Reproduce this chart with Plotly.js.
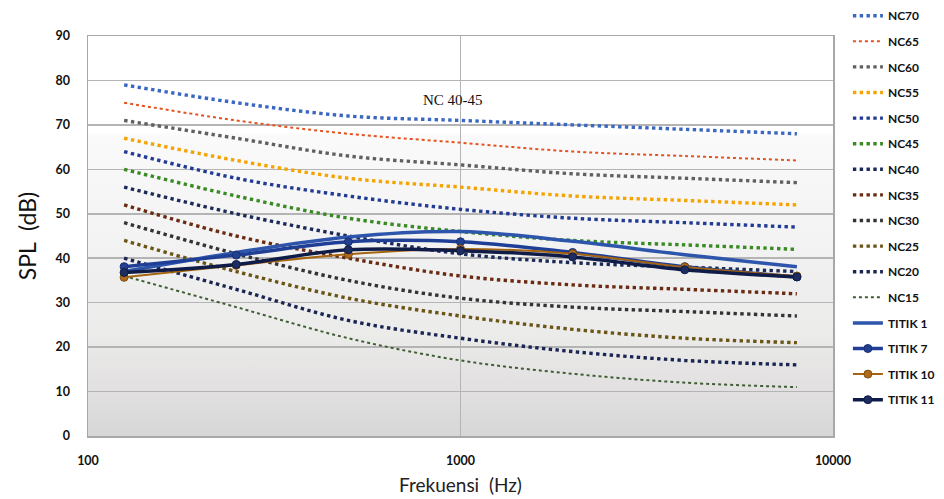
<!DOCTYPE html>
<html><head><meta charset="utf-8">
<script src="https://cdn.plot.ly/plotly-3.0.1.min.js"></script>
<style>html,body{margin:0;padding:0;background:#fff}#chart{width:944px;height:499px}</style>
</head><body><div id="chart"></div>
<script>
const freqs = [125, 250, 500, 1000, 2000, 4000, 8000];
const ncNames = ["NC70","NC65","NC60","NC55","NC50","NC45","NC40","NC35","NC30","NC25","NC20","NC15"];
const NC70 = [79,75,72,71,70,69,68];
const NC65 = [75,71,68,66,64,63,62];
const NC60 = [71,67,63,61,59,58,57];
const NC55 = [67,62,58,56,54,53,52];
const NC50 = [64,58,54,51,49,48,47];
const NC45 = [60,54,49,46,44,43,42];
const NC40 = [56,50,45,41,39,38,37];
const NC35 = [52,45,40,36,34,33,32];
const NC30 = [48,41,35,31,29,28,27];
const NC25 = [44,37,31,27,24,22,21];
const NC20 = [40,33,26,22,19,17,16];
const NC15 = [36,29,22,17,14,12,11];
const titik1 = [37.0,41.3,44.8,46.0,43.8,40.8,38.1];
const titik7 = [38.1,40.7,43.7,43.7,41.3,38.1,35.8];
const titik10 = [35.7,38.4,40.9,42.1,41.0,38.0,36.0];
const titik11 = [36.8,38.6,41.9,41.7,40.3,37.4,35.8];
const annotationText = "NC 40-45";

const ncData = [NC70,NC65,NC60,NC55,NC50,NC45,NC40,NC35,NC30,NC25,NC20,NC15];
const ncColors = ["#3a67c2","#e5511f","#606060","#f5a300","#213a93","#3a8a24","#1c2a58","#6a2b12","#333333","#6a5416","#1a2552","#3f5d33"];
const ncWidths = [3.4,2,3.4,3.4,3.4,3.4,3.4,3.4,3.4,3.4,3.4,2];

const traces = [];
ncData.forEach((ys,i)=>{
  traces.push({x:freqs,y:ys,name:ncNames[i],type:'scatter',mode:'lines',
    line:{color:ncColors[i],width:ncWidths[i],dash:'dot',shape:'spline'},legendgroup:'g'+i});
});
traces.push({x:freqs,y:titik1,name:'TITIK 1',mode:'lines',line:{color:'#2d55ab',width:3.5,shape:'spline'},legendgroup:'t1'});
traces.push({x:freqs,y:titik7,name:'TITIK 7',mode:'lines+markers',line:{color:'#1f3f97',width:3.5,shape:'spline'},
  marker:{size:8,color:'#223f90',line:{color:'#1a2f70',width:1}},legendgroup:'t7'});
traces.push({x:freqs,y:titik10,name:'TITIK 10',mode:'lines+markers',line:{color:'#a5640f',width:2,shape:'spline'},
  marker:{size:8,color:'#b06a1a',line:{color:'#80500f',width:1}},legendgroup:'t10'});
traces.push({x:freqs,y:titik11,name:'TITIK 11',mode:'lines+markers',line:{color:'#0f1c48',width:3.5,shape:'spline'},
  marker:{size:8,color:'#1e2d60',line:{color:'#0f1c48',width:1}},legendgroup:'t11'});

const grad = "data:image/svg+xml;utf8," + encodeURIComponent(
 '<svg xmlns="http://www.w3.org/2000/svg" width="10" height="100" preserveAspectRatio="none">'+
 '<defs><linearGradient id="g" x1="0" y1="0" x2="0" y2="1">'+
 '<stop offset="0" stop-color="#ffffff"/><stop offset="0.24" stop-color="#ffffff"/>'+
 '<stop offset="0.25" stop-color="#fafafa"/><stop offset="0.5" stop-color="#f3f3f3"/>'+
 '<stop offset="0.6" stop-color="#efefef"/><stop offset="0.75" stop-color="#ebebea"/>'+
 '<stop offset="0.88" stop-color="#e2e0e0"/><stop offset="1" stop-color="#d7d7d7"/>'+
 '</linearGradient></defs><rect width="10" height="100" fill="url(#g)"/></svg>');

const layout = {
  width:944, height:499,
  margin:{l:88,r:111,t:36,b:63,autoexpand:false},
  paper_bgcolor:'#ffffff', plot_bgcolor:'rgba(0,0,0,0)',
  showlegend:true,
  font:{family:'Lato, sans-serif',color:'#222'},
  xaxis:{type:'log',range:[2,4],dtick:1,showgrid:true,gridcolor:'#b4b4b4',gridwidth:1.5,
    tickvals:[100,1000,10000],ticktext:['100','1000','10000'],
    tickfont:{size:12.5,color:'#111',family:'Lato, sans-serif',weight:'bold'},ticks:'',ticklabelstandoff:12,
    showline:true,linecolor:'#a8a8a8',linewidth:1.5,mirror:true,zeroline:false,
    title:{text:'Frekuensi  (Hz)',font:{size:19,color:'#222',family:'Lato, sans-serif'},standoff:12}},
  yaxis:{range:[0,90],dtick:10,showgrid:true,gridcolor:'#b4b4b4',gridwidth:1.5,
    tickfont:{size:12.5,color:'#111',family:'Lato, sans-serif',weight:'bold'},ticks:'',ticklabelstandoff:14,
    showline:true,linecolor:'#a8a8a8',linewidth:1.5,mirror:true,zeroline:false,
    title:{text:'SPL  (dB)',font:{size:23,color:'#111',family:'Lato, sans-serif'},standoff:12}},
  legend:{x:1.02,xanchor:'left',y:1.087,yanchor:'top',maxheight:1000,
    font:{size:12,color:'#111',family:'Lato, sans-serif',weight:'bold'},
    traceorder:'grouped',tracegroupgap:6.6,bgcolor:'rgba(0,0,0,0)'},
  images:[{source:grad,xref:'paper',yref:'paper',x:0,y:1,sizex:1,sizey:1,sizing:'stretch',layer:'below',xanchor:'left',yanchor:'top'}],
  annotations:[{x:Math.log10(1000)-0.02,y:75.6,xref:'x',yref:'y',text:annotationText,showarrow:false,
    font:{family:'Liberation Serif, serif',size:15,color:'#111'}}]
};
Plotly.newPlot('chart',traces,layout,{displayModeBar:false,staticPlot:true});
</script></body></html>
